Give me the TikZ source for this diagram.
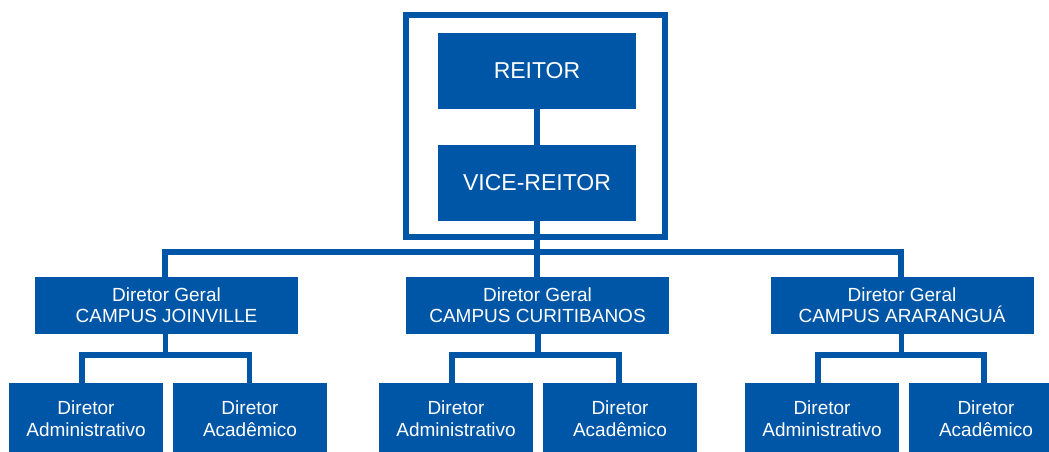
\documentclass[tikz,border=0pt]{standalone}
\usepackage{fontspec}
\setmainfont{Liberation Sans}
\definecolor{ufsc}{RGB}{0,86,166}
\begin{document}
\begin{tikzpicture}[x=1pt,y=-1pt,
  box/.style={fill=ufsc,text=white,inner sep=0pt,align=center},
  topbox/.style={box,minimum width=198pt,minimum height=76pt,font=\fontsize{23}{26}\selectfont},
  campusbox/.style={box,minimum width=263pt,minimum height=57pt,font=\fontsize{19}{21}\selectfont},
  subbox/.style={box,minimum width=154pt,minimum height=72pt,font=\fontsize{19}{22}\selectfont},
  link/.style={draw=ufsc,line width=5.5pt,line join=miter},
  ]
\useasboundingbox (0,0) rectangle (1049,452);
\clip (0,0) rectangle (1049,452);
\fill[white] (0,0) rectangle (1049,452);

\node[draw=ufsc,line width=6pt,minimum width=259pt,minimum height=222pt,inner sep=0pt] (frame) at (535.5,126) {};
\node[topbox] (reitor) at (537,71) {REITOR};
\node[topbox] (vice) at (537,183) {VICE-REITOR};

\node[campusbox] (cj) at (166.5,305.5) {Diretor Geral\\CAMPUS JOINVILLE};
\node[campusbox] (cc) at (537.5,305.5) {Diretor Geral\\CAMPUS CURITIBANOS};
\node[campusbox] (ca) at (902,305.5) {Diretor Geral\\CAMPUS ARARANGUÁ};

\node[subbox] (ja) at (86,419) {Diretor\\Administrativo};
\node[subbox] (jk) at (250,419) {Diretor\\Acadêmico};
\node[subbox] (ua) at (456,419) {Diretor\\Administrativo};
\node[subbox] (uk) at (620,419) {Diretor\\Acadêmico};
\node[subbox] (aa) at (822,419) {Diretor\\Administrativo};
\node[subbox] (ak) at (986,419) {Diretor\\Acadêmico};

% top links
\draw[link] (reitor) -- (vice);
\draw[link] (vice.south) -- (vice.south |- cc.north);
\coordinate (bl) at (165,252);
\coordinate (br) at (901,252);
\draw[link] (cj.north -| bl) -- (bl) -- (br) -- (ca.north -| br);

% Joinville
\coordinate (jl) at (82,355);
\coordinate (jr) at (249.5,355);
\draw[link] (cj.south -| 165.5,0) -- (jl -| 165.5,0);
\draw[link] (ja.north -| jl) -- (jl) -- (jr) -- (jk.north -| jr);

% Curitibanos
\coordinate (ul) at (452,355);
\coordinate (ur) at (619,355);
\draw[link] (cc.south -| 538,0) -- (ul -| 538,0);
\draw[link] (ua.north -| ul) -- (ul) -- (ur) -- (uk.north -| ur);

% Ararangua
\coordinate (al) at (818,355);
\coordinate (ar) at (984,355);
\draw[link] (ca.south -| 901.5,0) -- (al -| 901.5,0);
\draw[link] (aa.north -| al) -- (al) -- (ar) -- (ak.north -| ar);
\end{tikzpicture}
\end{document}
